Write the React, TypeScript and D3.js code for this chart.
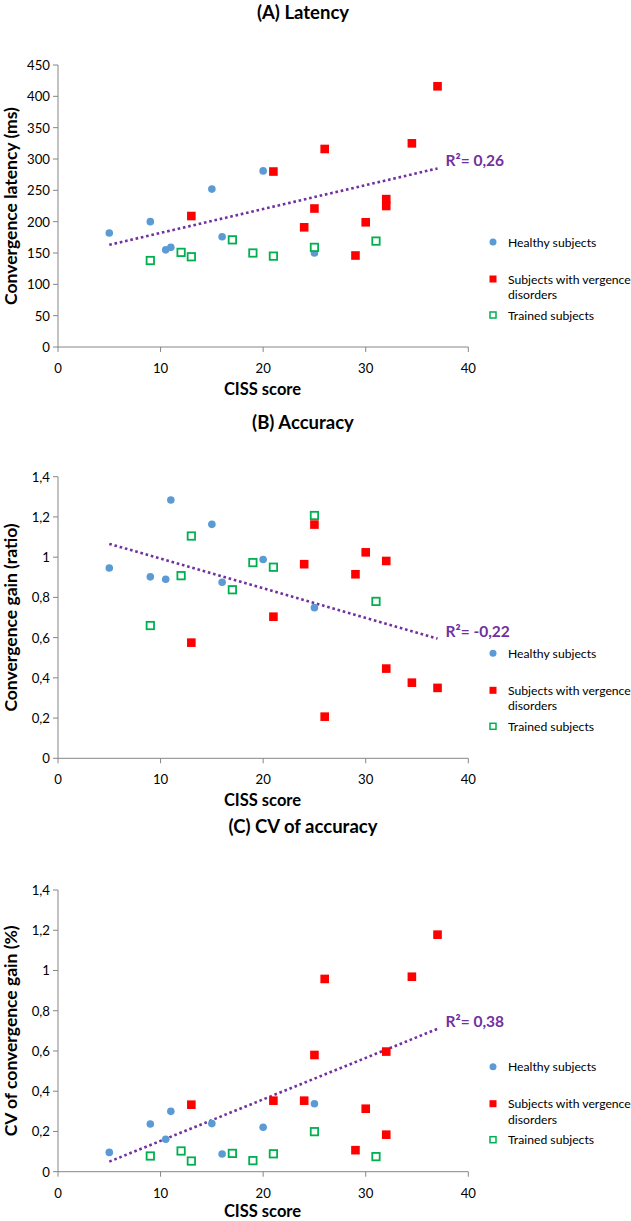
import React from 'react';
import * as d3 from 'd3';

// ---- Data ----
const healthyX = [5, 9, 10.5, 11, 15, 16, 20, 25];
const healthyLatency = [182, 200, 155, 159, 252, 176, 281, 150];
const healthyGain = [0.946, 0.902, 0.89, 1.284, 1.163, 0.875, 0.988, 0.749];
const healthyCV = [0.096, 0.237, 0.161, 0.3, 0.239, 0.088, 0.221, 0.338];

const vergenceX = [13, 21, 24, 25, 26, 29, 30, 32, 32, 34.5, 37];
const vergenceLatency = [209, 280, 191, 221, 316, 146, 199, 236, 225, 325, 416];
const vergenceGain = [0.575, 0.704, 0.965, 1.162, 0.207, 0.915, 1.024, 0.981, 0.446, 0.376, 0.35];
const vergenceCV = [0.333, 0.353, 0.353, 0.58, 0.958, 0.107, 0.313, 0.597, 0.184, 0.969, 1.178];

const trainedX = [9, 12, 13, 17, 19, 21, 25, 31];
const trainedLatency = [138, 151, 144, 171, 150, 145, 159, 169];
const trainedGain = [0.66, 0.908, 1.105, 0.838, 0.973, 0.95, 1.207, 0.78];
const trainedCV = [0.078, 0.103, 0.053, 0.091, 0.055, 0.089, 0.199, 0.075];

const trendX = [5, 37];
const latencyTrend = [163, 285];
const gainTrend = [1.066, 0.595];
const cvTrend = [0.05, 0.71];

const xTicks = [0, 10, 20, 30, 40];
const latencyTicks = [0, 50, 100, 150, 200, 250, 300, 350, 400, 450];
const ratioTicks = [0, 0.2, 0.4, 0.6, 0.8, 1, 1.2, 1.4];

const titles = ['(A) Latency', '(B) Accuracy', '(C) CV of accuracy'];
const yLabels = ['Convergence latency (ms)', 'Convergence gain (ratio)', 'CV of convergence gain (%)'];
const r2Labels = ['R²= 0,26', 'R²= -0,22', 'R²= 0,38'];
const legendLabels = ['Healthy subjects', 'Subjects with vergence', 'disorders', 'Trained subjects'];
const xLabel = 'CISS score';

// ---- Style ----
const FONT = 'Lato, "Open Sans", sans-serif';
const BLUE = '#5B9BD5';
const RED = '#FF0000';
const GREEN = '#00B050';
const PURPLE = '#7030A0';
const AXIS = '#868686';

const fmt = (v: number) => String(+v.toFixed(1)).replace('.', ',');

const panels = [
  { top: 65, bottom: 347, yMax: 450, ticks: latencyTicks, titleY: 12, xLabelOff: 42, h: healthyLatency, v: vergenceLatency, t: trainedLatency, trend: latencyTrend },
  { top: 476.7, bottom: 758.3, yMax: 1.4, ticks: ratioTicks, titleY: 421.7, xLabelOff: 42, h: healthyGain, v: vergenceGain, t: trainedGain, trend: gainTrend },
  { top: 890, bottom: 1171.7, yMax: 1.4, ticks: ratioTicks, titleY: 825.7, xLabelOff: 39.5, h: healthyCV, v: vergenceCV, t: trainedCV, trend: cvTrend },
];

const X0 = 58;
const X1 = 468.3;

function Panel({ p, i }: { p: typeof panels[number]; i: number }) {
  const x = d3.scaleLinear().domain([0, 40]).range([X0, X1]);
  const y = d3.scaleLinear().domain([0, p.yMax]).range([p.bottom, p.top]);
  const line = d3.line<number>().x((_, k) => x(trendX[k])).y((d) => y(d));
  const endX = x(trendX[1]);
  const endY = y(p.trend[1]);
  const lx = 493;
  const lt = 508;
  const legendSize = 12.2;
  return (
    <g>
      <text x={303} y={p.titleY} textAnchor="middle" dominantBaseline="central" fontFamily={FONT} fontWeight="bold" fontSize={18.5} fill="#000">
        {titles[i]}
      </text>
      {/* axes */}
      <line x1={X0} x2={X0} y1={y(p.yMax)} y2={p.bottom} stroke={AXIS} strokeWidth={1} />
      <line x1={X0} x2={X1} y1={p.bottom} y2={p.bottom} stroke={AXIS} strokeWidth={1} />
      {p.ticks.map((t) => (
        <g key={'y' + t}>
          <line x1={X0 - 5} x2={X0} y1={y(t)} y2={y(t)} stroke={AXIS} />
          <text x={X0 - 8} y={y(t)} textAnchor="end" dominantBaseline="central" fontFamily={FONT} fontSize={13.2} fill="#000">
            {fmt(t)}
          </text>
        </g>
      ))}
      {xTicks.map((t) => (
        <g key={'x' + t}>
          <line x1={x(t)} x2={x(t)} y1={p.bottom} y2={p.bottom + 5} stroke={AXIS} />
          <text x={x(t)} y={p.bottom + 21} textAnchor="middle" dominantBaseline="central" fontFamily={FONT} fontSize={13.2} fill="#000">
            {t}
          </text>
        </g>
      ))}
      <text x={262.5} y={p.bottom + p.xLabelOff} textAnchor="middle" dominantBaseline="central" fontFamily={FONT} fontWeight="bold" fontSize={16.5} fill="#000">
        {xLabel}
      </text>
      <text transform={`translate(10,${(p.top + p.bottom) / 2}) rotate(-90)`} textAnchor="middle" dominantBaseline="central" fontFamily={FONT} fontWeight="bold" fontSize={17.5} fill="#000">
        {yLabels[i]}
      </text>
      {/* trend */}
      <path d={line(p.trend) || ''} fill="none" stroke={PURPLE} strokeWidth={2.6} strokeDasharray="2.6 2.8" />
      <text x={endX + 8} y={endY - 8} dominantBaseline="central" fontFamily={FONT} fontWeight="bold" fontSize={15.5} fill={PURPLE}>
        {r2Labels[i]}
      </text>
      {/* points */}
      {healthyX.map((xv, k) => (
        <circle key={'h' + k} cx={x(xv)} cy={y(p.h[k])} r={3.8} fill={BLUE} />
      ))}
      {vergenceX.map((xv, k) => (
        <rect key={'v' + k} x={x(xv) - 4.3} y={y(p.v[k]) - 4.3} width={8.6} height={8.6} fill={RED} />
      ))}
      {trainedX.map((xv, k) => (
        <rect key={'t' + k} x={x(xv) - 3.7} y={y(p.t[k]) - 3.7} width={7.4} height={7.4} fill="#fff" stroke={GREEN} strokeWidth={1.8} />
      ))}
      {/* legend */}
      <circle cx={lx} cy={p.bottom - 105} r={3.5} fill={BLUE} />
      <text x={lt} y={p.bottom - 105} dominantBaseline="central" fontFamily={FONT} fontSize={legendSize} fill="#000">{legendLabels[0]}</text>
      <rect x={lx - 3.5} y={p.bottom - 68 - 3.5} width={7} height={7} fill={RED} />
      <text x={lt} y={p.bottom - 68} dominantBaseline="central" fontFamily={FONT} fontSize={legendSize} fill="#000">{legendLabels[1]}</text>
      <text x={lt} y={p.bottom - 52.5} dominantBaseline="central" fontFamily={FONT} fontSize={legendSize} fill="#000">{legendLabels[2]}</text>
      <rect x={lx - 3} y={p.bottom - 32 - 3} width={6} height={6} fill="#fff" stroke={GREEN} strokeWidth={1.5} />
      <text x={lt} y={p.bottom - 32} dominantBaseline="central" fontFamily={FONT} fontSize={legendSize} fill="#000">{legendLabels[3]}</text>
    </g>
  );
}

export default function App() {
  return (
    <svg width={631} height={1221} style={{ position: 'absolute', left: 0, top: 0, background: '#fff' }}>
      <rect x={0} y={0} width={631} height={1221} fill="#fff" />
      {panels.map((p, i) => (
        <Panel key={i} p={p} i={i} />
      ))}
    </svg>
  );
}
